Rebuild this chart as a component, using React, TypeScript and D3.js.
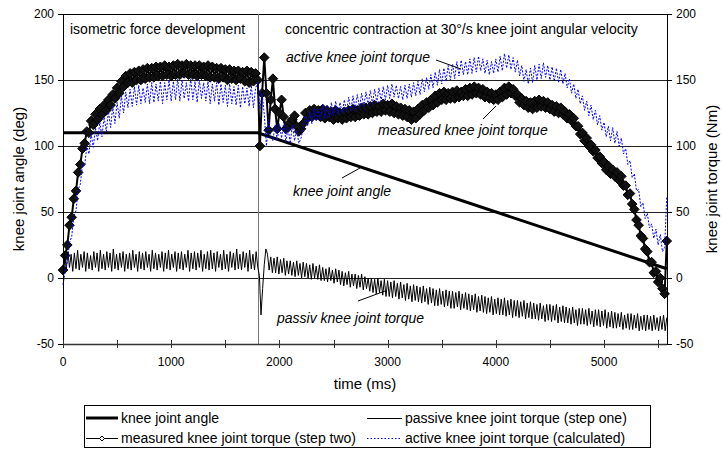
import React from "react";
import * as d3 from "d3";

// measured and active torque: samples every 20 ms
const stepMs = 20;
// passive torque vibrates faster, so it is read every 15 ms
const passiveStepMs = 15;

const measuredTorque = [
  6, 17, 25, 40, 46, 60, 66, 80, 86, 98,
  102, 111, 110, 119, 116, 124, 120, 128, 124, 131,
  127, 135, 131, 139, 136, 144, 140, 149, 145, 153,
  148, 155, 148, 156, 150, 157, 150, 158, 151, 159,
  152, 159, 152, 160, 153, 160, 153, 161, 154, 160,
  153, 161, 154, 162, 154, 161, 155, 162, 154, 161,
  154, 161, 153, 161, 154, 160, 153, 161, 152, 160,
  152, 159, 151, 159, 152, 158, 150, 158, 151, 157,
  150, 157, 151, 156, 149, 157, 148, 156, 149, 155,
  150, 100, 140, 167, 140, 112, 135, 151, 128, 113,
  125, 135, 122, 113, 114, 118, 120, 123, 115, 111,
  113, 117, 125, 121, 127, 122, 128, 123, 127, 122,
  128, 121, 127, 122, 126, 120, 127, 121, 125, 120,
  126, 121, 127, 122, 128, 122, 127, 123, 129, 124,
  129, 124, 130, 125, 131, 126, 130, 126, 132, 127,
  131, 126, 132, 125, 130, 124, 129, 123, 128, 122,
  127, 120, 126, 121, 128, 124, 131, 127, 133, 129,
  135, 131, 138, 133, 140, 135, 141, 135, 140, 136,
  141, 136, 142, 137, 141, 138, 143, 138, 144, 139,
  145, 140, 144, 139, 143, 137, 141, 136, 140, 135,
  139, 135, 141, 137, 144, 139, 145, 140, 143, 138,
  139, 133, 136, 131, 134, 129, 133, 128, 134, 129,
  135, 130, 134, 129, 133, 128, 131, 126, 130, 125,
  129, 124, 126, 121, 124, 119, 121, 115, 115, 109,
  110, 104, 106, 100, 101, 96, 97, 91, 92, 87,
  88, 82, 85, 79, 82, 77, 80, 74, 77, 70,
  70, 63, 64, 56, 52, 44, 40, 32, 30, 22,
  20, 12, 12, 4, 5, -3, 0, -8, -12, 28,
];

const passiveTorque = [
  7, 19, 6, 20, 8, 18, 5, 19, 7, 21,
  6, 18, 8, 20, 5, 19, 7, 17, 6, 20,
  8, 19, 5, 21, 7, 18, 6, 20, 8, 19,
  5, 22, 7, 18, 6, 19, 8, 20, 5, 18,
  7, 19, 6, 21, 8, 18, 5, 20, 7, 19,
  6, 20, 8, 18, 5, 21, 7, 19, 6, 18,
  8, 20, 5, 19, 7, 21, 6, 18, 8, 20,
  5, 19, 7, 20, 6, 18, 8, 21, 5, 19,
  7, 20, 6, 19, 8, 21, 5, 18, 7, 20,
  6, 21, 7, 19, 5, 20, 8, 18, 6, 21,
  7, 18, 5, 20, 8, 19, 6, 22, 7, 18,
  6, 20, 8, 19, 5, 21, 7, 18, 6, 20,
  8, 2, -28, -8, 10, 22, 18, 6, 16, 4,
  15, 4, 16, 3, 14, 4, 15, 2, 13, 3,
  13, 2, 12, 1, 13, 2, 11, 0, 12, 1,
  11, 0, 10, -1, 11, 0, 9, -1, 10, -2,
  8, -2, 7, -3, 8, -2, 6, -4, 7, -3,
  6, -5, 5, -6, 4, -5, 5, -7, 3, -6,
  3, -8, 2, -7, 3, -9, 1, -8, 0, -10,
  0, -11, -1, -12, 0, -11, -2, -13, -1, -14,
  -2, -14, -3, -15, -2, -14, -4, -16, -3, -15,
  -5, -17, -4, -16, -6, -18, -5, -17, -6, -18,
  -7, -19, -6, -18, -8, -20, -7, -19, -8, -21,
  -9, -21, -8, -20, -10, -22, -9, -21, -10, -23,
  -10, -23, -11, -22, -10, -24, -12, -23, -11, -24,
  -12, -25, -13, -24, -12, -26, -14, -25, -13, -26,
  -14, -27, -15, -26, -14, -28, -16, -27, -15, -28,
  -16, -28, -15, -29, -17, -28, -16, -30, -17, -29,
  -17, -30, -18, -29, -17, -31, -19, -30, -18, -31,
  -19, -31, -20, -32, -19, -31, -21, -33, -20, -32,
  -20, -33, -21, -32, -20, -34, -22, -33, -21, -34,
  -22, -34, -23, -35, -22, -34, -24, -36, -23, -35,
  -23, -35, -24, -36, -23, -35, -25, -37, -24, -36,
  -24, -37, -25, -36, -24, -38, -26, -37, -25, -38,
  -26, -38, -27, -37, -26, -39, -28, -38, -27, -39,
  -27, -39, -28, -38, -27, -40, -29, -39, -28, -40,
  -28, -39, -29, -40, -28, -39, -30, -40, -29, -39,
  -28, -40, -30,
];

const activeTorque = [
  -5, 5, 12, 27, 31, 47, 51, 67, 71, 86,
  85, 100, 94, 109, 99, 114, 104, 118, 107, 122,
  111, 126, 114, 130, 117, 133, 121, 138, 125, 141,
  129, 143, 130, 145, 131, 146, 132, 144, 133, 147,
  132, 148, 133, 147, 134, 149, 132, 148, 135, 150,
  134, 149, 135, 151, 134, 150, 136, 148, 134, 151,
  135, 149, 133, 150, 136, 148, 134, 149, 132, 147,
  134, 148, 131, 147, 133, 146, 130, 147, 132, 145,
  131, 146, 129, 145, 132, 144, 130, 146, 129, 144,
  148, 128, 140, 124, 100, 120, 108, 104, 116, 104,
  117, 106, 118, 103, 114, 102, 116, 104, 112, 102,
  106, 114, 123, 115, 126, 117, 129, 119, 128, 120,
  132, 121, 131, 122, 133, 123, 134, 124, 133, 125,
  135, 126, 137, 127, 138, 128, 139, 129, 140, 130,
  141, 131, 142, 132, 143, 133, 144, 134, 145, 135,
  146, 136, 147, 137, 146, 136, 145, 135, 146, 136,
  147, 137, 148, 138, 149, 139, 151, 141, 152, 143,
  154, 144, 156, 146, 158, 147, 159, 149, 161, 150,
  162, 151, 164, 153, 165, 154, 164, 154, 166, 155,
  167, 156, 168, 157, 166, 155, 165, 154, 164, 155,
  166, 156, 168, 157, 170, 159, 169, 158, 167, 156,
  165, 153, 161, 149, 158, 147, 159, 148, 161, 150,
  162, 151, 163, 152, 161, 150, 160, 149, 159, 148,
  158, 147, 155, 144, 151, 140, 147, 136, 143, 132,
  138, 127, 134, 123, 131, 120, 127, 116, 123, 112,
  118, 107, 115, 104, 114, 102, 111, 100, 106, 94,
  98, 86, 89, 76, 79, 66, 67, 54, 57, 45,
  49, 38, 41, 30, 37, 25, 33, 20, 23, 62,
];

const angleTimes = [0, 1800, 5580];
const angleValues = [110, 110, 7];

const phaseSwitchMs = 1800;
const timeTicks = [0, 500, 1000, 1500, 2000, 2500, 3000, 3500, 4000, 4500, 5000, 5500];
const timeLabels = [0, 1000, 2000, 3000, 4000, 5000];
const valueTicks = [-50, 0, 50, 100, 150, 200];
const gridValues = [0, 50, 100, 150];

const font = "'Liberation Sans', Arial, sans-serif";

export default function App() {
  const W = 722;
  const H = 449;
  const m = { left: 63, right: 667, top: 14, bottom: 344 };

  const x = d3.scaleLinear().domain([0, 5582]).range([m.left, m.right]);
  const y = d3.scaleLinear().domain([-50, 200]).range([m.bottom, m.top]);

  const sampled = (step: number) =>
    d3
      .line<number>()
      .x((_, i) => x(i * step))
      .y((d) => y(d));

  const angleLine = d3
    .line<number>()
    .x((_, i) => x(angleTimes[i]))
    .y((d) => y(d));

  const diamond = (cx: number, cy: number, r: number) =>
    `M${cx},${cy - r}L${cx + r},${cy}L${cx},${cy + r}L${cx - r},${cy}Z`;

  const xs = x(phaseSwitchMs);
  const crisp = (v: number) => Math.round(v) + 0.5;

  return (
    <div style={{ position: "fixed", left: 0, top: 0 }}>
      <svg width={W} height={H} style={{ display: "block", background: "#fff" }} fontFamily={font}>
        {/* grid */}
        {gridValues.map((v) => (
          <line key={v} x1={m.left} x2={m.right} y1={crisp(y(v))} y2={crisp(y(v))} stroke="#222" />
        ))}
        <line x1={m.left} x2={m.right} y1={m.top + 0.5} y2={m.top + 0.5} stroke="#000" />
        <line x1={crisp(xs)} x2={crisp(xs)} y1={m.top} y2={m.bottom} stroke="#777" />

        {/* series */}
        <path d={angleLine(angleValues) ?? ""} fill="none" stroke="#000" strokeWidth={3} />
        <path d={sampled(stepMs)(measuredTorque) ?? ""} fill="none" stroke="#000" strokeWidth={2} />
        {measuredTorque.map((v, i) => (
          <path key={i} d={diamond(x(i * stepMs), y(v), 4.8)} fill="#111" stroke="#000" strokeWidth={1} />
        ))}
        <path d={sampled(passiveStepMs)(passiveTorque) ?? ""} fill="none" stroke="#000" strokeWidth={1} />
        <path d={sampled(stepMs)(activeTorque) ?? ""} fill="none" stroke="#0000ff" strokeWidth={1} strokeDasharray="2 1.5" />

        {/* axes */}
        <line x1={m.left + 0.5} x2={m.left + 0.5} y1={m.top} y2={m.bottom} stroke="#000" />
        <line x1={m.right + 0.5} x2={m.right + 0.5} y1={m.top} y2={m.bottom} stroke="#000" />
        <line x1={m.left} x2={m.right} y1={m.bottom + 0.5} y2={m.bottom + 0.5} stroke="#333" strokeWidth={1.5} />
        {valueTicks.map((v) => (
          <g key={v}>
            <line x1={m.left - 5} x2={m.left} y1={crisp(y(v))} y2={crisp(y(v))} stroke="#000" />
            <line x1={m.right} x2={m.right + 5} y1={crisp(y(v))} y2={crisp(y(v))} stroke="#000" />
            <text x={m.left - 9} y={y(v) + 4} fontSize={12} textAnchor="end">{v}</text>
            <text x={m.right + 9} y={y(v) + 4} fontSize={12}>{v}</text>
          </g>
        ))}
        {timeTicks.map((t) => (
          <line key={t} x1={crisp(x(t))} x2={crisp(x(t))} y1={m.bottom - 4} y2={m.bottom + 4} stroke="#333" />
        ))}
        {timeLabels.map((t) => (
          <text key={t} x={x(t)} y={m.bottom + 22} fontSize={12} textAnchor="middle">{t}</text>
        ))}

        {/* axis titles */}
        <text transform={`translate(24,${(m.top + m.bottom) / 2}) rotate(-90)`} fontSize={15} textAnchor="middle">knee joint angle (deg)</text>
        <text transform={`translate(717,${(m.top + m.bottom) / 2}) rotate(-90)`} fontSize={15} textAnchor="middle">knee joint torque (Nm)</text>
        <text x={(m.left + m.right) / 2} y={389} fontSize={15} textAnchor="middle">time (ms)</text>

        {/* phase headings */}
        <text x={70} y={34} fontSize={14}>isometric force development</text>
        <text x={285} y={34} fontSize={14}>concentric contraction at 30°/s knee joint angular velocity</text>

        {/* annotations */}
        <g fontSize={14} fontStyle="italic">
          <text x={286} y={62}>active knee joint torque</text>
          <text x={378} y={135}>measured knee joint torque</text>
          <text x={293} y={196}>knee joint angle</text>
          <text x={277} y={323}>passiv knee joint torque</text>
        </g>
        <g stroke="#000" strokeWidth={1}>
          <line x1={436} y1={60} x2={461} y2={69} />
          <line x1={483} y1={119} x2={496} y2={106} />
          <line x1={342} y1={178} x2={360} y2={168} />
          <line x1={358} y1={301} x2={385} y2={291} />
        </g>

        {/* legend */}
        <rect x={84.5} y={405.5} width={566} height={42} fill="#fff" stroke="#000" />
        <line x1={86} x2={118} y1={418} y2={418} stroke="#000" strokeWidth={3} />
        <text x={121} y={423} fontSize={14}>knee joint angle</text>
        <line x1={86} x2={118} y1={438.5} y2={438.5} stroke="#000" />
        <path d={diamond(102, 438.5, 2.5)} fill="#fff" stroke="#000" />
        <text x={121} y={443} fontSize={14}>measured knee joint torque (step two)</text>
        <line x1={367} x2={402} y1={418.5} y2={418.5} stroke="#000" />
        <text x={405} y={423} fontSize={14}>passive knee joint torque (step one)</text>
        <line x1={367} x2={402} y1={438.5} y2={438.5} stroke="#0000ff" strokeDasharray="1.5 2" />
        <text x={405} y={443} fontSize={14}>active knee joint torque (calculated)</text>
      </svg>
    </div>
  );
}
